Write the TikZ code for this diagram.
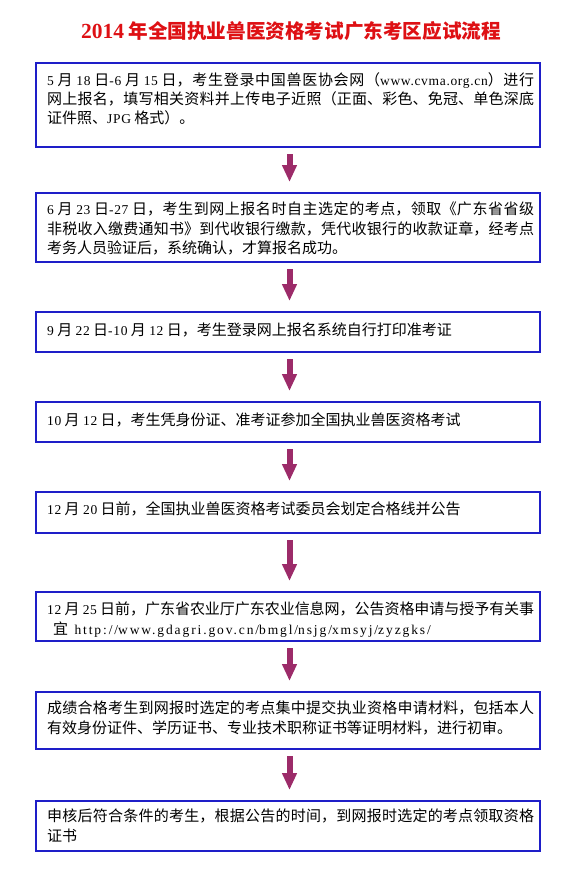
\documentclass[tikz,border=0pt]{standalone}
\usepackage{fontspec}
\usetikzlibrary{arrows.meta,calc}
\setmainfont{Noto Sans CJK SC}
\newfontfamily\latinf{Liberation Serif}[LetterSpace=5,Scale=0.9]
\newfontfamily\urlf{Liberation Serif}[LetterSpace=14,Scale=0.9]
\newfontfamily\titlelat{Liberation Serif}
\newcommand\enx[1]{{\latinf #1}}
\XeTeXlinebreaklocale "zh"
\XeTeXlinebreakskip=0pt plus 3pt minus 0.3pt
\tolerance=9999
\definecolor{boxblue}{RGB}{30,30,200}
\definecolor{arrowc}{RGB}{156,43,105}
\definecolor{titlered}{RGB}{222,16,20}
\tikzset{
  box/.style={draw=boxblue, line width=2pt, minimum width=504pt, inner sep=0pt, fill=white},
  txt/.style={anchor=north west, inner sep=0pt, text width=487pt, align=justify,
    font=\fontsize{15}{19.3}\selectfont},
  flow/.style={draw=arrowc, line width=6pt, -{Triangle[width=14pt,length=17pt]},
    shorten <=6pt, shorten >=10pt},
  titlestyle/.style={text=titlered, inner sep=0pt, font=\fontsize{19.6}{24}\selectfont\bfseries}
}
\begin{document}
\begin{tikzpicture}[x=1pt,y=-1pt]
\fill[white] (0,0) rectangle (585,880);
\useasboundingbox (0,0) rectangle (585,880);
\node[titlestyle] (title) at (291,31) {{\titlelat\fontsize{21.5}{24}\selectfont 2014} 年全国执业兽医资格考试广东考区应试流程};
% boxes
\node[box, minimum height=84pt] (b1) at (288,105) {};
\node[box, minimum height=69pt] (b2) at (288,227.5) {};
\node[box, minimum height=40pt] (b3) at (288,332) {};
\node[box, minimum height=40pt] (b4) at (288,422) {};
\node[box, minimum height=41pt] (b5) at (288,512.5) {};
\node[box, minimum height=49pt] (b6) at (288,616.5) {};
\node[box, minimum height=57pt] (b7) at (288,720.5) {};
\node[box, minimum height=50pt] (b8) at (288,826) {};
% texts
\node[txt] (t1) at ($(b1.north west)+(12pt,-10pt)$) {\noindent\enx{5} 月 \enx{18} 日\enx{-6} 月 \enx{15} 日，考生登录中国兽医协会网（\enx{www.cvma.org.cn}）进行\linebreak 网上报名，填写相关资料并上传电子近照（正面、彩色、免冠、单色深底\linebreak 证件照、\enx{JPG} 格式）。};
\node[txt] (t2) at ($(b2.north west)+(12pt,-10pt)$) {\noindent\enx{6} 月 \enx{23} 日\enx{-27} 日，考生到网上报名时自主选定的考点，领取《广东省省级\linebreak 非税收入缴费通知书》到代收银行缴款，凭代收银行的收款证章，经考点\linebreak 考务人员验证后，系统确认，才算报名成功。};
\node[txt] (t3) at ($(b3.north west)+(12pt,-12pt)$) {\noindent\enx{9} 月 \enx{22} 日\enx{-10} 月 \enx{12} 日，考生登录网上报名系统自行打印准考证};
\node[txt] (t4) at ($(b4.north west)+(12pt,-12pt)$) {\noindent\enx{10} 月 \enx{12} 日，考生凭身份证、准考证参加全国执业兽医资格考试};
\node[txt] (t5) at ($(b5.north west)+(12pt,-11pt)$) {\noindent\enx{12} 月 \enx{20} 日前，全国执业兽医资格考试委员会划定合格线并公告};
\node[txt] (t6) at ($(b6.north west)+(12pt,-11pt)$) {\noindent\enx{12} 月 \enx{25} 日前，广东省农业厅广东农业信息网，公告资格申请与授予有关事\linebreak \hspace*{6pt}宜 \hspace*{3pt}{\urlf http://www.gdagri.gov.cn/bmgl/nsjg/xmsyj/zyzgks/}};
\node[txt] (t7) at ($(b7.north west)+(12pt,-10pt)$) {\noindent 成绩合格考生到网报时选定的考点集中提交执业资格申请材料，包括本人\linebreak 有效身份证件、学历证书、专业技术职称证书等证明材料，进行初审。};
\node[txt] (t8) at ($(b8.north west)+(12pt,-9pt)$) {\noindent 申核后符合条件的考生，根据公告的时间，到网报时选定的考点领取资格\linebreak 证书};
% arrows
\draw[flow] ([xshift=1.5pt]b1.south) -- ([xshift=1.5pt]b2.north);
\draw[flow] ([xshift=1.5pt]b2.south) -- ([xshift=1.5pt]b3.north);
\draw[flow] ([xshift=1.5pt]b3.south) -- ([xshift=1.5pt]b4.north);
\draw[flow] ([xshift=1.5pt]b4.south) -- ([xshift=1.5pt]b5.north);
\draw[flow] ([xshift=1.5pt]b5.south) -- ([xshift=1.5pt]b6.north);
\draw[flow] ([xshift=1.5pt]b6.south) -- ([xshift=1.5pt]b7.north);
\draw[flow] ([xshift=1.5pt]b7.south) -- ([xshift=1.5pt]b8.north);
\end{tikzpicture}
\end{document}
